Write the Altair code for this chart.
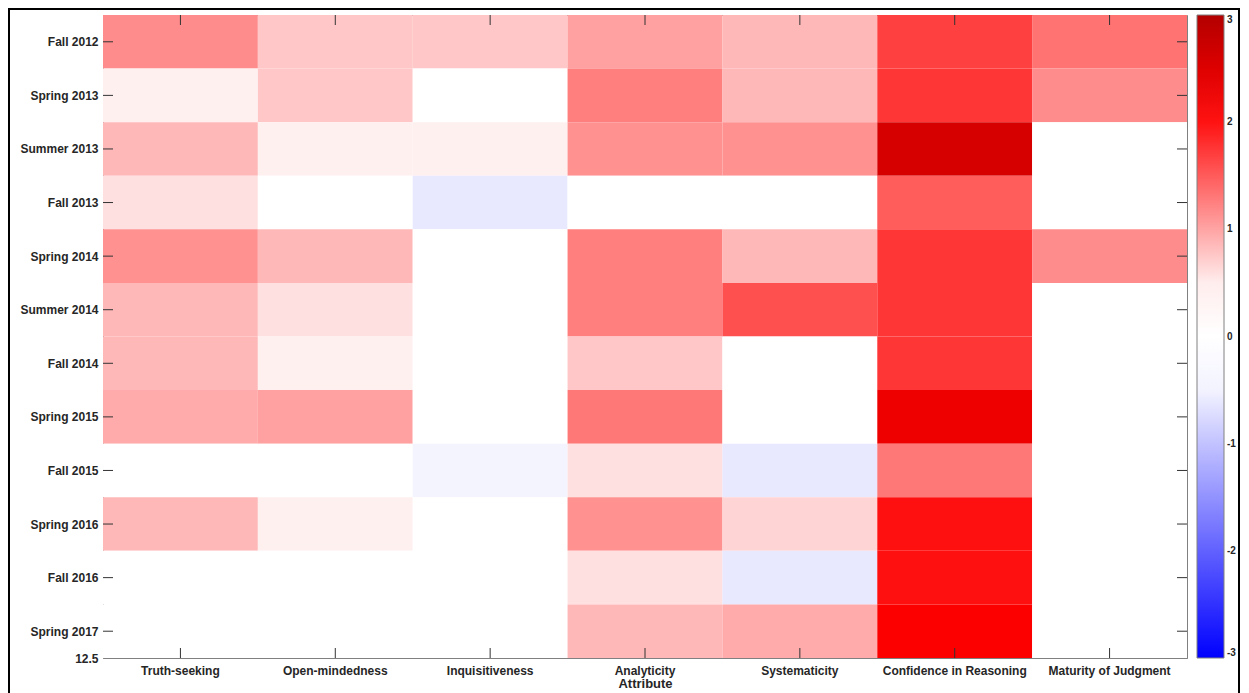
import json
import altair as alt
import pandas as pd

semesters = ["Fall 2012", "Spring 2013", "Summer 2013", "Fall 2013", "Spring 2014",
             "Summer 2014", "Fall 2014", "Spring 2015", "Fall 2015", "Spring 2016",
             "Fall 2016", "Spring 2017"]
attributes = ["Truth-seeking", "Open-mindedness", "Inquisitiveness", "Analyticity",
              "Systematicity", "Confidence in Reasoning", "Maturity of Judgment"]

truth_seeking = [1.16, 0.48, 0.86, 0.59, 1.13, 0.86, 0.86, 0.95, 0.0, 0.86, 0.0, 0.0]
open_mindedness = [0.76, 0.76, 0.48, 0.0, 0.86, 0.59, 0.48, 1.02, 0.0, 0.48, 0.0, 0.0]
inquisitiveness = [0.76, 0.0, 0.48, -0.61, 0.0, 0.0, 0.0, 0.0, -0.49, 0.0, 0.0, 0.0]
analyticity = [1.02, 1.25, 1.13, 0.0, 1.25, 1.25, 0.76, 1.30, 0.59, 1.13, 0.59, 0.86]
systematicity = [0.86, 0.86, 1.13, 0.0, 0.86, 1.57, 0.0, 0.0, -0.61, 0.67, -0.61, 0.95]
confidence = [1.68, 1.75, 2.59, 1.49, 1.75, 1.75, 1.75, 2.30, 1.30, 2.01, 2.01, 2.15]
maturity = [1.33, 1.16, 0.0, 0.0, 1.16, 0.0, 0.0, 0.0, 0.0, 0.0, 0.0, 0.0]

series = [truth_seeking, open_mindedness, inquisitiveness, analyticity,
          systematicity, confidence, maturity]

colorbar_ticks = [-3, -2, -1, 0, 1, 2, 3]

rows = []
for a, vals in zip(attributes, series):
    for i, (s, v) in enumerate(zip(semesters, vals)):
        rows.append({"attr": a, "sem": s, "row": i + 1,
                     "y0": i + 0.5, "y1": i + 1.5, "value": v})
df = pd.DataFrame(rows)
sem_df = pd.DataFrame({"row": list(range(1, len(semesters) + 1))})
attr_df = pd.DataFrame({"attr": attributes})
frame_df = pd.DataFrame({"k": [0]})

W, H = 1084, 643
FONT = "Liberation Sans"
GREY = "#808080"
TXT = "#262626"

label_expr = ("datum.value == 12.5 ? '12.5' : " + json.dumps(semesters)
              + "[round(datum.value) - 1]")

x_enc = alt.X("attr:N", sort=attributes, title="Attribute",
              scale=alt.Scale(domain=attributes, paddingInner=0, paddingOuter=0),
              axis=alt.Axis(labelAngle=0, tickSize=0, ticks=False, labelPadding=7,
                            titlePadding=1, domainColor=GREY))
y_scale = alt.Scale(domain=[0.5, 12.5], reverse=True, nice=False, zero=False)

color_scale = alt.Scale(domain=[-3, -0.375, 0.375, 2.12, 3],
                        range=["#0000ff", "#ffffff", "#ffffff", "#ff0000", "#b30000"],
                        interpolate="rgb")

heat = alt.Chart(df).mark_rect(strokeWidth=0).encode(
    x=x_enc,
    y=alt.Y("y0:Q", scale=y_scale, title=None,
            axis=alt.Axis(values=list(range(1, 13)) + [12.5], labelExpr=label_expr,
                          tickSize=0, ticks=False, labelPadding=5, grid=False,
                          domainColor=GREY)),
    y2="y1:Q",
    color=alt.Color("value:Q", scale=color_scale, title=None,
                    legend=alt.Legend(orient="none", legendX=W + 10, legendY=0,
                                      direction="vertical", gradientLength=H,
                                      gradientThickness=27, values=colorbar_ticks,
                                      labelExpr="'' + datum.value",
                                      labelFontSize=10, labelFont=FONT,
                                      labelFontWeight="bold", labelColor=TXT,
                                      labelOffset=3, labelOverlap=False,
                                      gradientStrokeColor=GREY,
                                      gradientStrokeWidth=1)),
)

tick_color = "#333333"
left_ticks = alt.Chart(sem_df).mark_rule(color=tick_color, strokeWidth=1).encode(
    y=alt.Y("row:Q", scale=y_scale), x=alt.value(0), x2=alt.value(10))
right_ticks = alt.Chart(sem_df).mark_rule(color=tick_color, strokeWidth=1).encode(
    y=alt.Y("row:Q", scale=y_scale), x=alt.value(W - 10), x2=alt.value(W))
bottom_ticks = alt.Chart(attr_df).mark_rule(color=tick_color, strokeWidth=1).encode(
    x=alt.X("attr:N", sort=attributes), y=alt.value(H - 10), y2=alt.value(H))
top_ticks = alt.Chart(attr_df).mark_rule(color=tick_color, strokeWidth=1).encode(
    x=alt.X("attr:N", sort=attributes), y=alt.value(0), y2=alt.value(10))

frame = alt.Chart(frame_df).mark_rect(fill=None, stroke="black", strokeWidth=2).encode(
    x=alt.value(-94), x2=alt.value(1136), y=alt.value(-6), y2=alt.value(690))

chart = alt.layer(heat, left_ticks, right_ticks, bottom_ticks, top_ticks, frame).properties(
    width=W, height=H,
    background="white",
    autosize=alt.AutoSizeParams(type="none"),
    padding={"left": 95, "top": 7, "right": 54, "bottom": 35},
).configure_view(stroke=GREY, strokeWidth=1).configure_axis(
    labelFont=FONT, labelFontSize=12, labelFontWeight="bold", labelColor=TXT,
    titleFont=FONT, titleFontSize=13, titleFontWeight="bold", titleColor=TXT,
)

chart.save("out.html", embed_options={"renderer": "svg", "actions": False})
